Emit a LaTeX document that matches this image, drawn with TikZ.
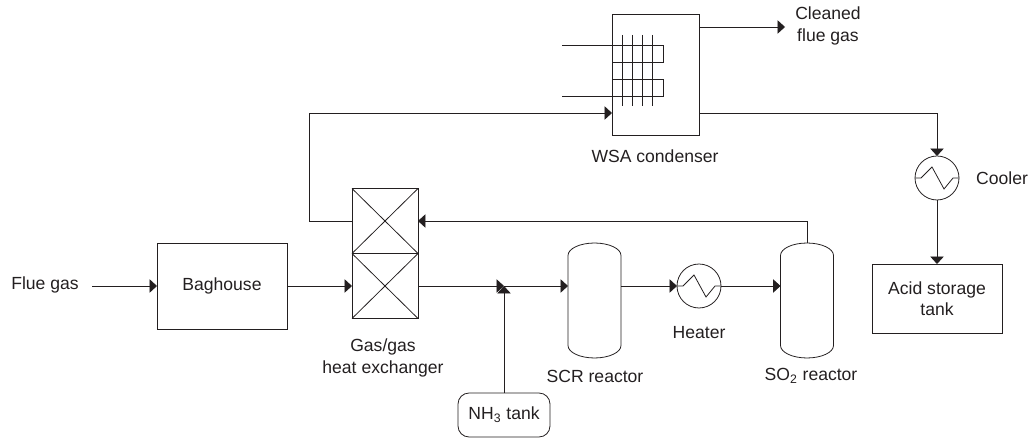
\documentclass[tikz,border=0pt]{standalone}
\usepackage{fontspec}
\setmainfont{Liberation Sans}
\usetikzlibrary{arrows.meta}
\definecolor{inkgray}{RGB}{35,31,32}

\begin{document}
\begin{tikzpicture}[
    x=0.02cm, y=-0.02cm,
    >={Triangle[length=0.15cm, width=0.27cm]},
    color=inkgray, line width=0.45pt,
    every node/.style={font=\fontsize{10}{12.2}\selectfont, align=center},
    unit/.style={draw, rectangle, inner sep=0pt, outer sep=0pt},
    packing/.style={unit, minimum width=1.32cm, minimum height=1.3cm},
    reactor/.style={rectangle, inner sep=0pt, outer sep=0pt, minimum width=1.06cm, minimum height=2.3cm},
    exch/.style={draw, circle, inner sep=0pt, outer sep=0pt, minimum size=0.88cm},
    tag/.style={inner sep=1pt}
]
    \useasboundingbox (0,0) rectangle (1030,438);

    \node[unit, minimum width=2.6cm, minimum height=1.72cm] (bag) at (222,286) {Baghouse};
    \node[packing] (hxt) at (385,221) {};
    \node[packing] (hxb) at (385,286) {};
    \node[reactor] (scr) at (594.5,300.5) {};
    \node[reactor] (so) at (807,300.5) {};
    \node[exch] (heater) at (699,286) {};
    \node[exch] (cooler) at (937,178) {};
    \node[unit, minimum width=1.74cm, minimum height=2.42cm] (wsa) at (655.5,74.5) {};
    \node[unit, minimum width=2.6cm, minimum height=1.38cm] (acid) at (937,298.5) {Acid storage\\tank};
    \node[unit, rounded corners=0.22cm, minimum width=1.84cm, minimum height=0.88cm] (nh3) at (504,415) {NH\textsubscript{3} tank};

    \node[tag] (flue) at (45,285) {Flue gas};
    \node[tag] (hxlab) at (383,358) {Gas/gas\\heat exchanger};
    \node[tag] (scrlab) at (595,376) {SCR reactor};
    \node[tag] (solab) at (811,376) {SO\textsubscript{2} reactor};
    \node[tag] (heatlab) at (699,333) {Heater};
    \node[tag] (coollab) at (1002,178) {Cooler};
    \node[tag] (wsalab) at (655,156) {WSA condenser};
    \node[tag] (cleanlab) at (828,26) {Cleaned\\flue gas};

    \coordinate (fluein) at (92,286);
    \coordinate (mix) at (504,286);
    \coordinate (fbk) at (309,113);
    \coordinate (wsain) at (612,113);
    \coordinate (wsaout) at (699,113);
    \coordinate (cleanin) at (699,27);
    \coordinate (cleanout) at (785,27);
    \coordinate (coila) at (562,45);
    \coordinate (coilb) at (562,96);

    % Vessel outlines
    \foreach \r in {scr,so} {
        \draw ([yshift=0.25cm]\r.south west) -- ([yshift=-0.25cm]\r.north west)
            arc[x radius=0.53cm, y radius=0.25cm, start angle=180, end angle=0]
            -- ([yshift=0.25cm]\r.south east)
            arc[x radius=0.53cm, y radius=0.25cm, start angle=360, end angle=180];
    }

    % Packed beds
    \foreach \h in {hxt,hxb} {
        \draw (\h.north west) -- (\h.south east);
        \draw (\h.north east) -- (\h.south west);
    }

    % Exchanger zigzag
    \foreach \e in {heater,cooler} {
        \draw (\e.west) -- ++(6,0) -- ++(11,-11) -- ++(12,22) -- ++(9,-11) -- (\e.east);
    }

    % Condenser coil
    \draw (coila) -- (663,45) -- (663,62) -- (612,62) -- (612,79) -- (663,79) -- (663,96) -- (coilb);
    \foreach \x in {622,632,642,652.5} {
        \draw (\x,35) -- (\x,106);
    }

    \draw[->] (fluein) -- (bag.west);
    \draw[->] (bag.east) -- (hxb.west);
    \draw[->] (hxb.east) -- (mix);
    \draw[->] (mix) -- (scr.west |- mix);
    \draw[->] (nh3.north) -- (mix);
    \draw[->] (scr.east |- heater.west) -- (heater.west);
    \draw[->] (heater.east) -- (so.west |- heater.east);
    \draw[->] (so.north) |- (hxt.east);
    \draw[->] (hxt.west) -| (fbk) -- (wsain);
    \draw[->] (cleanin) -- (cleanout);
    \draw[->] (wsaout) -| (cooler.north);
    \draw[->] (cooler.south) -- (acid.north);

\end{tikzpicture}
\end{document}
